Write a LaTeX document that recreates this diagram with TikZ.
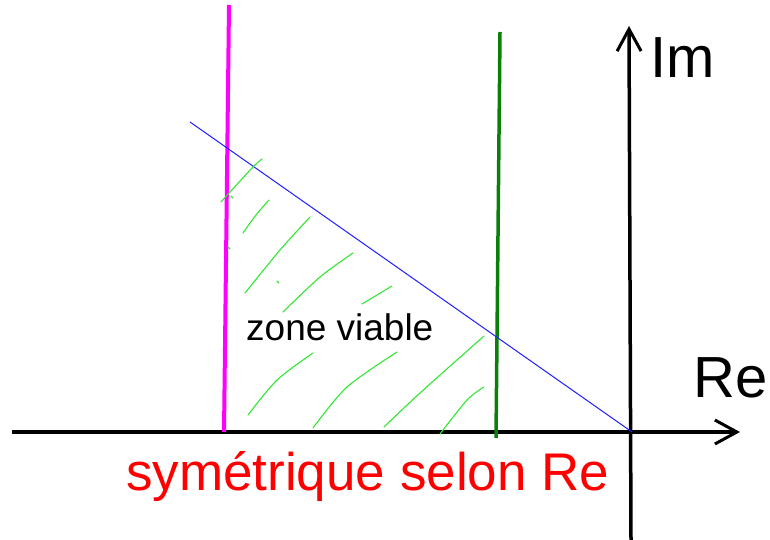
\documentclass[tikz,border=0pt]{standalone}
\usepackage{fontspec}
\setmainfont{Liberation Sans}
\usepackage{tikz}
\usetikzlibrary{arrows.meta,positioning}

\definecolor{hatchgreen}{RGB}{50,230,50}
\definecolor{darkgreen}{RGB}{10,128,10}
\definecolor{pinkline}{RGB}{255,0,255}
\definecolor{redtext}{RGB}{255,0,0}
\definecolor{blueline}{RGB}{30,30,255}

\begin{document}
\begin{tikzpicture}[
  x=1pt, y=-1pt,
  axis/.style={line width=3.5pt, -{Straight Barb[length=22pt,width=24pt,line width=3pt]}},
  lbl/.style={anchor=base west, inner sep=0pt},
  hatch/.style={hatchgreen, line width=1.1pt, line cap=round, line join=round}
]
\useasboundingbox (0,0) rectangle (770,540);

% axes
\coordinate (xstart) at (12,432);
\coordinate (xend)   at (740,432);
\coordinate (ystart) at (631,540);
\coordinate (yend)   at (629,26);
\draw[axis] (xstart) -- (xend);
\draw[axis] (ystart) -- (yend);

\node[lbl, font=\fontsize{58}{60}\selectfont] (im) at (650,78)  {Im};
\node[lbl, font=\fontsize{58}{60}\selectfont] (re) at (693,397) {Re};

% constraint lines
\coordinate (magtop) at (229,5);
\coordinate (magbot) at (224,432);
\coordinate (grntop) at (500,32);
\coordinate (grnbot) at (496,438);
\coordinate (bltop)  at (190,122);
\coordinate (blbot)  at (632,432);
\draw[pinkline, line width=4pt] (magtop) -- (magbot);
\draw[darkgreen, line width=3.5pt] (grntop) -- (grnbot);
\draw[blueline, line width=1pt] (bltop) -- (blbot);

% hatching
\draw[hatch] plot[smooth] coordinates {(221,202) (252,168) (262,159)};
\draw[hatch] (231,196) -- (233,198);
\draw[hatch] (228,247) -- (230,249);
\draw[hatch] plot[smooth] coordinates {(243,233) (256,215) (269,200)};
\draw[hatch] plot[smooth] coordinates {(245,293) (280,250) (310,217)};
\draw[hatch] (277,281) -- (279,283);
\draw[hatch] plot[smooth] coordinates {(283,312) (320,277) (353,253)};
\draw[hatch] plot[smooth] coordinates {(362,304) (392,286)};
\draw[hatch] plot[smooth] coordinates {(248,415) (277,380) (313,353)};
\draw[hatch] plot[smooth] coordinates {(313,428) (347,387) (397,352)};
\draw[hatch] plot[smooth] coordinates {(384,427) (420,393) (484,336)};
\draw[hatch] plot[smooth] coordinates {(440,434) (467,400) (484,387)};

\node[lbl, font=\fontsize{37}{40}\selectfont] (zone) at (246,340) {zone viable};
\node[lbl, redtext, font=\fontsize{53}{56}\selectfont] (sym) at (126,490) {symétrique selon Re};
\end{tikzpicture}
\end{document}
